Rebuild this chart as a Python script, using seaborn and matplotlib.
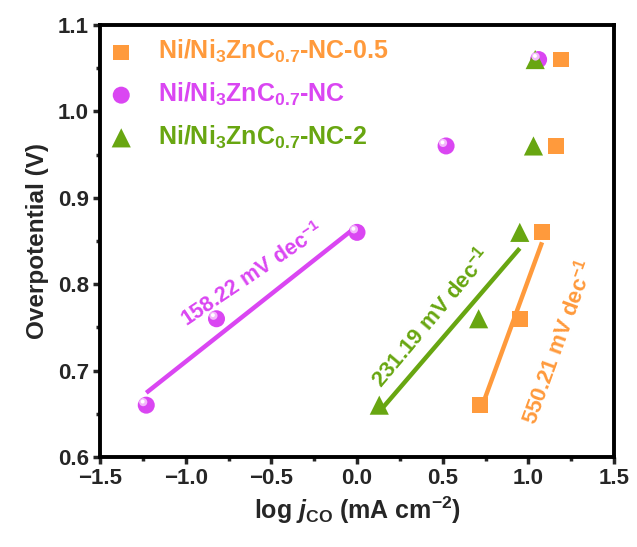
import numpy as np
import pandas as pd
import matplotlib
matplotlib.use("Agg")
import matplotlib.pyplot as plt
import matplotlib.transforms as mtransforms
import seaborn as sns

# ---- data ----
series_names = ["Ni/Ni$_3$ZnC$_{0.7}$-NC-0.5",
                "Ni/Ni$_3$ZnC$_{0.7}$-NC",
                "Ni/Ni$_3$ZnC$_{0.7}$-NC-2"]
overpotential = [0.66, 0.76, 0.86, 0.96, 1.06]
logj_05 = [0.72, 0.95, 1.08, 1.16, 1.19]
logj_nc = [-1.23, -0.82, 0.00, 0.52, 1.06]
logj_2 = [0.13, 0.71, 0.95, 1.03, 1.04]
tafel_labels = ["550.21 mV dec$^{-1}$", "158.22 mV dec$^{-1}$", "231.19 mV dec$^{-1}$"]
colors = ["#FF9A3C", "#DA46F2", "#68A611"]
markers = ["s", "o", "^"]

df = pd.DataFrame({
    "series": np.repeat(series_names, len(overpotential)),
    "x": logj_05 + logj_nc + logj_2,
    "y": overpotential * 3,
})

sns.set_style("ticks")
plt.rcParams["font.family"] = ["Liberation Sans", "DejaVu Sans"]
plt.rcParams["font.weight"] = "bold"
plt.rcParams["mathtext.fontset"] = "custom"
plt.rcParams["mathtext.rm"] = "Liberation Sans:bold"
plt.rcParams["mathtext.bf"] = "Liberation Sans:bold"
plt.rcParams["mathtext.it"] = "Liberation Sans:bold:italic"
plt.rcParams["mathtext.sf"] = "Liberation Sans:bold"

fig = plt.figure(figsize=(6.37, 5.47), dpi=100)
ax = fig.add_axes([100 / 637, 1 - 457 / 547, 514 / 637, 432 / 547])

sizes = [130, 150, 190]
for name, c in zip(series_names, colors):
    sub = df[df.series == name]
    # linear Tafel fit on the first three points
    sns.regplot(data=sub.iloc[:3], x="x", y="y", ax=ax, scatter=False, ci=None,
                truncate=True, color=c, line_kws=dict(lw=3.2, solid_capstyle="butt"))

handles = []
for name, c, m, s in zip(series_names, colors, markers, sizes):
    sub = df[df.series == name]
    sns.scatterplot(data=sub, x="x", y="y", ax=ax, color=c, marker=m, s=s,
                    edgecolor="none", linewidth=0, zorder=5)
    h = ax.scatter([], [], color=c, marker=m, s=s, edgecolor="none", label=name)
    handles.append(h)
    if m == "o":
        # sphere highlight
        off = mtransforms.ScaledTranslation(-2.2 / 72, 2.2 / 72, fig.dpi_scale_trans)
        hl = ax.scatter(sub.x, sub.y, s=35, color="#F3B8FB", edgecolor="none", zorder=6)
        hl.set_offset_transform(ax.transData + off)
        off2 = mtransforms.ScaledTranslation(-2.6 / 72, 2.6 / 72, fig.dpi_scale_trans)
        hl2 = ax.scatter(sub.x, sub.y, s=8, color="white", edgecolor="none", zorder=7)
        hl2.set_offset_transform(ax.transData + off2)

# Tafel slope annotations
ax.text(-0.61, 0.810, tafel_labels[1], color=colors[1], fontsize=15.5, fontweight="bold",
        rotation=34, ha="center", va="center", rotation_mode="anchor")
ax.text(0.43, 0.762, tafel_labels[2], color=colors[2], fontsize=16, fontweight="bold",
        rotation=50, ha="center", va="center", rotation_mode="anchor")
ax.text(1.17, 0.733, tafel_labels[0], color=colors[0], fontsize=16, fontweight="bold",
        rotation=70, ha="center", va="center", rotation_mode="anchor")

leg = ax.legend(handles=handles, loc="upper left", frameon=False, fontsize=18,
                bbox_to_anchor=(0.0, 0.993), handletextpad=1.0, labelspacing=0.62,
                borderaxespad=0.2, borderpad=0.2, handlelength=0.9)
for t, c in zip(leg.get_texts(), colors):
    t.set_color(c)
    t.set_fontweight("bold")

ax.set_xlim(-1.5, 1.5)
ax.set_ylim(0.6, 1.1)
ax.set_xticks(np.arange(-1.5, 1.51, 0.5))
ax.set_yticks(np.arange(0.6, 1.101, 0.1))
ax.set_xticks(np.arange(-1.25, 1.5, 0.5), minor=True)
ax.set_yticks(np.arange(0.65, 1.1, 0.1), minor=True)
ax.set_xticklabels([f"{v:.1f}".replace("-", "\u2212") for v in np.arange(-1.5, 1.51, 0.5)])
ax.set_yticklabels([f"{v:.1f}" for v in np.arange(0.6, 1.101, 0.1)])
ax.tick_params(axis="both", which="major", direction="out", length=5, width=2.5,
               labelsize=16, pad=3, top=False, right=False)
ax.tick_params(axis="both", which="minor", direction="out", length=3, width=2.5,
               top=False, right=False)
for lbl in ax.get_xticklabels() + ax.get_yticklabels():
    lbl.set_fontweight("bold")
for sp in ax.spines.values():
    sp.set_visible(True)
    sp.set_linewidth(2.8)
    sp.set_color("black")

ax.set_xlabel("log $j_{\\mathrm{CO}}$ (mA cm$^{-2}$)", fontsize=18, fontweight="bold", labelpad=4)
ax.set_ylabel("Overpotential (V)", fontsize=17.5, fontweight="bold", labelpad=6)

fig.savefig("out.png", dpi=100)
